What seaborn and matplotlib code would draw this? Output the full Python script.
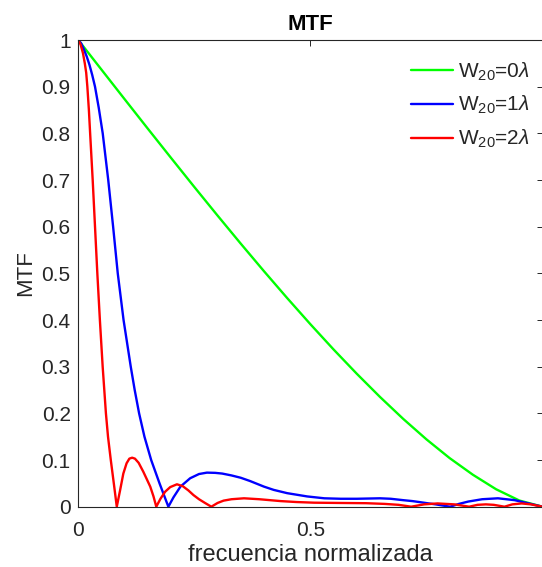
import matplotlib
matplotlib.use("Agg")
import matplotlib.pyplot as plt
import seaborn as sns
import pandas as pd

# ---------------- data ----------------
nu_g = [0.0, 0.05, 0.1, 0.15, 0.2, 0.25, 0.3, 0.35, 0.4, 0.45, 0.5,
        0.55, 0.6, 0.65, 0.7, 0.75, 0.8, 0.85, 0.9, 0.95, 1.0]
mtf_g = [1.0, 0.9364, 0.8729, 0.8097, 0.7471, 0.6850, 0.6238, 0.5636, 0.5046, 0.4470, 0.3910,
         0.3368, 0.2848, 0.2351, 0.1881, 0.1443, 0.1041, 0.0685, 0.0374, 0.0133, 0.0]

nu_b = [0.0, 0.006, 0.012, 0.018, 0.024, 0.030, 0.036, 0.044, 0.0526, 0.0645, 0.075,
        0.085, 0.0975, 0.113, 0.1215, 0.131, 0.1425, 0.157, 0.175,
        0.194, 0.205, 0.220, 0.241, 0.260, 0.277, 0.295, 0.31, 0.33, 0.35, 0.37, 0.385,
        0.40, 0.421, 0.45, 0.493, 0.53, 0.565, 0.60, 0.65, 0.673, 0.70, 0.72, 0.738, 0.755,
        0.77, 0.785, 0.801, 0.82, 0.84, 0.87, 0.904, 0.94, 0.97, 1.0]
mtf_b = [1.0, 0.993, 0.98, 0.965, 0.947, 0.925, 0.90, 0.855, 0.80, 0.70, 0.60,
         0.50, 0.40, 0.30, 0.25, 0.20, 0.15, 0.10, 0.05,
         0.0, 0.020, 0.043, 0.061, 0.070, 0.073, 0.0725, 0.071, 0.067, 0.062, 0.055, 0.049,
         0.043, 0.036, 0.029, 0.022, 0.018, 0.017, 0.017, 0.018, 0.017, 0.014, 0.012, 0.0095, 0.007,
         0.005, 0.0025, 0.0, 0.006, 0.011, 0.016, 0.018, 0.014, 0.007, 0.0]

nu_r = [0.0, 0.005, 0.010, 0.014, 0.017, 0.0195, 0.0228, 0.0255, 0.031, 0.036, 0.041,
        0.0465, 0.0525, 0.0595, 0.064, 0.0700, 0.0765, 0.0829, 0.090, 0.097, 0.104,
        0.110, 0.116, 0.122, 0.130, 0.140, 0.148, 0.155, 0.162, 0.168, 0.177, 0.187, 0.198,
        0.2125, 0.225, 0.237, 0.248, 0.26, 0.273, 0.2866, 0.30, 0.313, 0.33, 0.357, 0.39,
        0.436, 0.47, 0.508, 0.565, 0.62, 0.66, 0.69, 0.717, 0.745, 0.774, 0.81, 0.842,
        0.86, 0.878, 0.895, 0.918, 0.935, 0.955, 0.975, 1.0]
mtf_r = [1.0, 0.99, 0.972, 0.95, 0.93, 0.90, 0.85, 0.80, 0.70, 0.60, 0.50,
         0.40, 0.30, 0.20, 0.15, 0.10, 0.05, 0.0, 0.035, 0.071, 0.093,
         0.103, 0.105, 0.103, 0.094, 0.075, 0.058, 0.043, 0.022, 0.0, 0.017, 0.032, 0.042,
         0.048, 0.044, 0.035, 0.025, 0.016, 0.008, 0.0, 0.008, 0.013, 0.016, 0.018, 0.016,
         0.012, 0.010, 0.0086, 0.008, 0.0075, 0.006, 0.004, 0.0, 0.005, 0.007, 0.005, 0.0,
         0.004, 0.005, 0.004, 0.0, 0.005, 0.007, 0.005, 0.0]

labels = [r"W$_{20}$=0$\mathit{\lambda}$", r"W$_{20}$=1$\mathit{\lambda}$", r"W$_{20}$=2$\mathit{\lambda}$"]
colors = ["#00ff00", "#0000ff", "#ff0000"]
xticks = [0, 0.5]
yticks = [0, 0.1, 0.2, 0.3, 0.4, 0.5, 0.6, 0.7, 0.8, 0.9, 1]
ytick_labels = ["0", "0.1", "0.2", "0.3", "0.4", "0.5", "0.6", "0.7", "0.8", "0.9", "1"]
xtick_labels = ["0", "0.5"]

# ---------------- style ----------------
sns.set_style("white")
plt.rcParams["font.family"] = ["Liberation Sans", "DejaVu Sans"]
plt.rcParams["mathtext.fontset"] = "custom"
plt.rcParams["mathtext.rm"] = "Liberation Sans"
plt.rcParams["mathtext.it"] = "Liberation Sans:italic"
plt.rcParams["mathtext.default"] = "rm"

axc = "#262626"
fig = plt.figure(figsize=(5.42, 5.67), dpi=100)
ax = fig.add_axes([78.3 / 542, (567 - 506.7) / 567, (542.5 - 78.3) / 542, (506.7 - 40) / 567])

series = [(nu_g, mtf_g), (nu_b, mtf_b), (nu_r, mtf_r)]
for (x, y), lab, c in zip(series, labels, colors):
    df = pd.DataFrame({"nu": x, "mtf": y})
    sns.lineplot(data=df, x="nu", y="mtf", ax=ax, color=c, label=lab,
                 linewidth=1.7, estimator=None, sort=False)

ax.set_xlim(0, 1)
ax.set_ylim(0, 1)
ax.set_xticks(xticks)
ax.set_xticklabels(xtick_labels)
ax.set_yticks(yticks)
ax.set_yticklabels(ytick_labels)
ax.tick_params(direction="in", length=4, width=0.7, colors=axc, labelsize=15,
               top=True, right=True)
ax.tick_params(axis="y", pad=5.5)
ax.tick_params(axis="x", pad=10.5)
for s in ax.spines.values():
    s.set_color(axc)
    s.set_linewidth(0.8)

ax.set_xlabel("frecuencia normalizada", fontsize=17, color=axc, labelpad=3)
ax.set_ylabel("MTF", fontsize=16, color=axc, labelpad=4)
ax.set_title("MTF", fontsize=16, fontweight="bold", color="black", pad=7)

leg = ax.legend(loc="upper right", frameon=False, fontsize=15,
                handlelength=2.0, handletextpad=0.25, labelspacing=0.55,
                borderaxespad=0.2, bbox_to_anchor=(1.0, 0.983))

fig.savefig("out.png", dpi=100)
